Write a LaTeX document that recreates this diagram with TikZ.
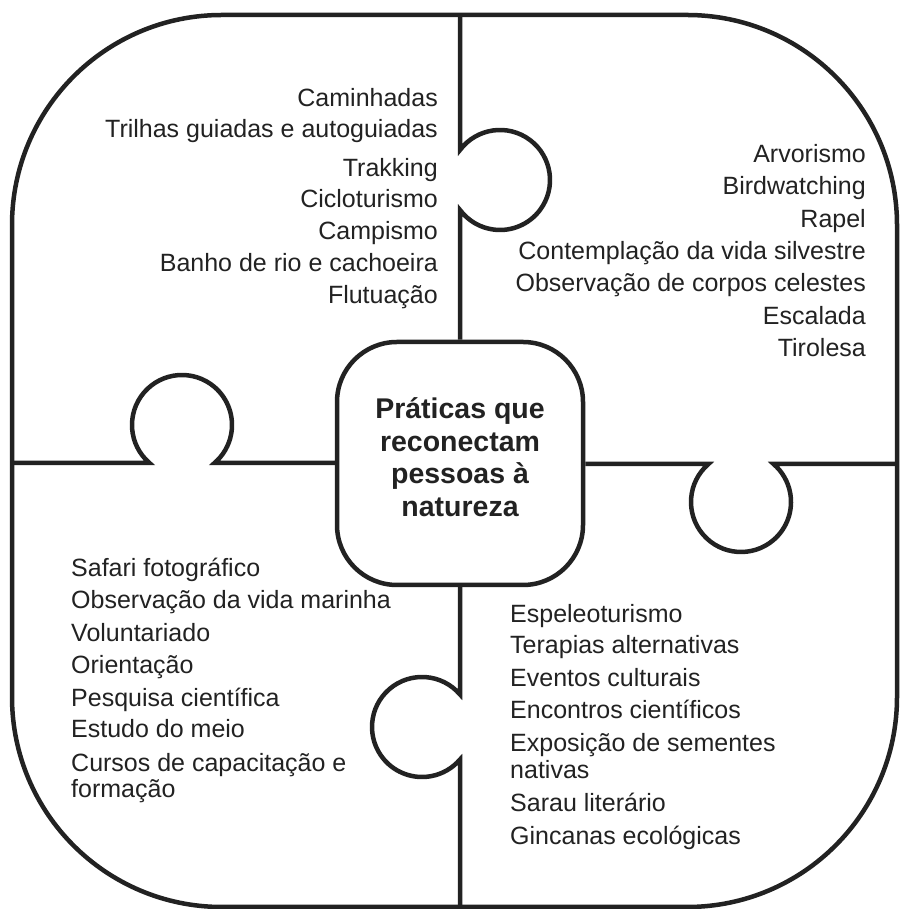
\documentclass[tikz,border=0pt]{standalone}
\usepackage{fontspec}
\setmainfont{Liberation Sans}
\definecolor{ink}{HTML}{222222}
\begin{document}
\begin{tikzpicture}[x=1pt,y=1pt,
  outline/.style={draw=ink,line width=4.5pt,line join=miter},
  itemE/.style={inner sep=0pt,text=ink,anchor=base east,font=\fontsize{25}{30}\selectfont},
  itemW/.style={inner sep=0pt,text=ink,anchor=base west,font=\fontsize{25}{30}\selectfont},
  hubbox/.style={draw=ink,line width=4.5pt,rounded corners=60pt,minimum width=246pt,minimum height=243pt,inner sep=0pt},
  hubtext/.style={inner sep=0pt,text=ink,align=center,font=\bfseries\fontsize{28.5}{32.5}\selectfont}]
\useasboundingbox (0,0) rectangle (899,909);
\fill[white] (0,0) rectangle (899,909);
% outer rounded frame
\draw[outline,rounded corners=210pt] (12,2) rectangle (897,894);
% centre box
\node[hubbox] (hub) at (460,445.5) {};
\node[hubtext,yshift=6.5pt] (hubt) at (hub.center) {Práticas que\\reconectam\\pessoas à\\natureza};
% dividers with puzzle knobs
\coordinate (topv) at (460,894);
\coordinate (botv) at (460,2);
\coordinate (lefth) at (12,446);
\coordinate (righth) at (897,445);
\draw[outline] (topv) -- (460,759.0) arc[start angle=143.13,end angle=-143.13,radius=50pt] -- (hub.north);
\draw[outline] (lefth) -- (149.5,446) arc[start angle=229.46,end angle=-49.46,radius=50pt] -- (hub.west |- 0,446);
\draw[outline] (hub.east |- 0,445) -- (708.5,445) arc[start angle=130.54,end angle=409.46,radius=50pt] -- (righth);
\draw[outline] (hub.south) -- (460,214.5) arc[start angle=40.54,end angle=319.46,radius=50pt] -- (botv);
% top-left list
\node[itemE] (tl1) at (438,802) {Caminhadas};
\node[itemE] (tl2) at (438,771) {Trilhas guiadas e autoguiadas};
\node[itemE] (tl3) at (438,732) {Trakking};
\node[itemE] (tl4) at (438,701) {Cicloturismo};
\node[itemE] (tl5) at (438,669) {Campismo};
\node[itemE] (tl6) at (438,637) {Banho de rio e cachoeira};
\node[itemE] (tl7) at (438,605) {Flutuação};
% top-right list
\node[itemE] (tr1) at (866,746) {Arvorismo};
\node[itemE] (tr2) at (866,714) {Birdwatching};
\node[itemE] (tr3) at (866,681) {Rapel};
\node[itemE] (tr4) at (866,649) {Contemplação da vida silvestre};
\node[itemE] (tr5) at (866,617) {Observação de corpos celestes};
\node[itemE] (tr6) at (866,584) {Escalada};
\node[itemE] (tr7) at (866,552) {Tirolesa};
% bottom-left list
\node[itemW] (bl1) at (71,332) {Safari fotográfico};
\node[itemW] (bl2) at (71,300) {Observação da vida marinha};
\node[itemW] (bl3) at (71,267) {Voluntariado};
\node[itemW] (bl4) at (71,235) {Orientação};
\node[itemW] (bl5) at (71,202) {Pesquisa científica};
\node[itemW] (bl6) at (71,171) {Estudo do meio};
\node[itemW] (bl7a) at (71,137) {Cursos de capacitação e};
\node[itemW] (bl7b) at (71,111) {formação};
% bottom-right list
\node[itemW] (br1) at (510,286) {Espeleoturismo};
\node[itemW] (br2) at (510,255) {Terapias alternativas};
\node[itemW] (br3) at (510,222) {Eventos culturais};
\node[itemW] (br4) at (510,190) {Encontros científicos};
\node[itemW] (br5a) at (510,157) {Exposição de sementes};
\node[itemW] (br5b) at (510,130) {nativas};
\node[itemW] (br6) at (510,97) {Sarau literário};
\node[itemW] (br7) at (510,64) {Gincanas ecológicas};
\end{tikzpicture}
\end{document}
